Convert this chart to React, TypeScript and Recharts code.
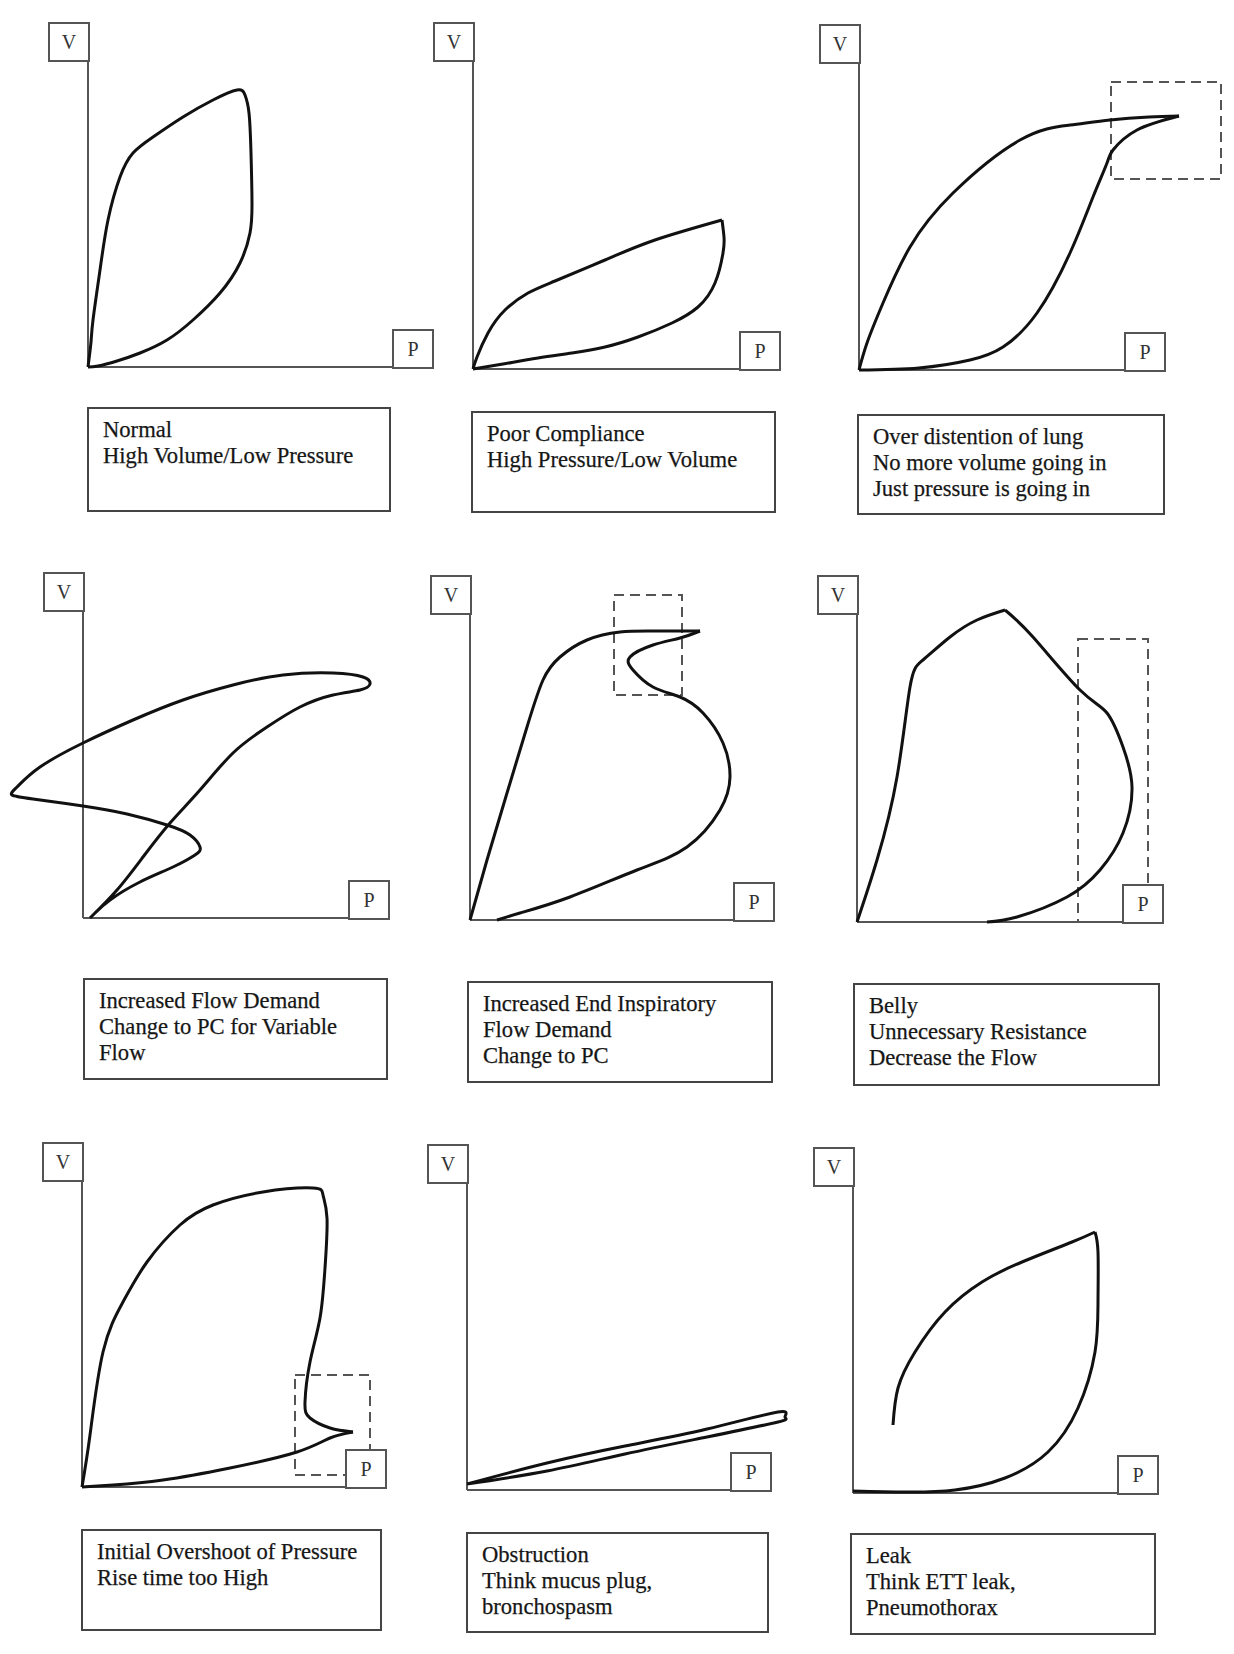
import React from "react";
import { LineChart, Line, XAxis, YAxis, ReferenceLine, ReferenceArea } from "recharts";

type Pt = { p: number; v: number };
const pts = (a: number[][]): Pt[] => a.map(([p, v]) => ({ p, v }));

// pressure / volume loops (arbitrary units)
const normalLoop = pts([
  [0, 0], [3, 25], [5, 47], [12, 97], [20, 147], [32, 190], [45, 214], [65, 230], [95, 250],
  [125, 267], [149, 277], [157, 272], [161, 254], [163, 214], [164, 164], [162, 134],
  [152, 104], [132, 74], [105, 47], [79, 27], [52, 14], [29, 6], [10, 1], [0, 0],
]);

const poorComplianceInsp = pts([
  [0, 0], [4, 12], [15, 36], [32, 59], [55, 76], [82, 88], [132, 109], [182, 129], [249, 149],
]);
const poorComplianceExp = pts([
  [249, 149], [251, 132], [250, 116], [242, 86], [225, 62], [199, 46], [165, 32], [132, 22],
  [99, 16], [65, 11], [30, 5], [0, 0],
]);

const overDistInsp = pts([
  [0, 0], [8, 27], [24, 67], [51, 123], [94, 177], [161, 230], [211, 245], [251, 250],
  [290, 253], [320, 254],
]);
const overDistExp = pts([
  [320, 254], [278, 240], [254, 220], [248, 207], [234, 173], [211, 117], [178, 57],
  [144, 23], [111, 10], [60, 2], [0, 0],
]);

const flowDemandLoop = pts([
  [7, 0], [34, 28], [60, 61], [87, 95], [117, 128], [150, 165], [184, 191], [217, 211],
  [250, 223], [277, 228], [287, 234], [280, 241], [250, 245], [200, 243], [150, 233],
  [100, 218], [50, 198], [0, 175], [-43, 151], [-66, 131], [-71, 123], [-50, 119], [0, 112],
  [44, 104], [84, 93], [107, 83], [117, 71], [112, 63], [90, 51], [57, 36], [27, 18],
  [12, 5], [7, 0],
]);

const endInspInsp = pts([
  [0, 0], [17, 60], [37, 127], [57, 193], [73, 240], [90, 263], [117, 280], [150, 288],
  [183, 289], [230, 289],
]);
const endInspExp = pts([
  [230, 289], [210, 282], [183, 275], [160, 263], [163, 250], [183, 233], [210, 223],
  [233, 207], [253, 177], [260, 143], [250, 110], [217, 73], [167, 50], [100, 23], [50, 7],
  [27, 0],
]);

const bellyInsp = pts([
  [0, 0], [20, 62], [40, 145], [53, 235], [66, 262], [93, 285], [120, 302], [148, 312],
]);
const bellyExp = pts([
  [148, 312], [176, 285], [223, 232], [250, 209], [266, 175], [275, 135], [266, 89],
  [243, 52], [210, 25], [160, 5], [130, 0],
]);

const overshootInsp = pts([
  [0, 0], [8, 52], [21, 135], [41, 185], [65, 225], [98, 262], [131, 282], [181, 295],
  [231, 299], [241, 292], [245, 269], [243, 219], [238, 169], [228, 125], [223, 85],
  [228, 69], [248, 59], [271, 55],
]);
const overshootExp = pts([
  [271, 55], [248, 49], [215, 35], [148, 19], [81, 7], [31, 2], [0, 0],
]);

const obstructionLoop = pts([
  [0, 6], [80, 27], [158, 44], [240, 61], [311, 78], [318, 73], [311, 68], [240, 53],
  [158, 36], [80, 19], [0, 6],
]);

const leakInsp = pts([
  [40, 68], [45, 105], [62, 141], [92, 181], [129, 211], [169, 231], [219, 251], [242, 261],
]);
const leakExp = pts([
  [242, 261], [245, 241], [245, 191], [242, 141], [225, 85], [195, 41], [152, 15],
  [102, 3], [52, 1], [0, 2],
]);

const captions: string[][] = [
  ["Normal", "High Volume/Low Pressure"],
  ["Poor Compliance", "High Pressure/Low Volume"],
  ["Over distention of lung", "No more volume going in", "Just pressure is going in"],
  ["Increased Flow Demand", "Change to PC for Variable", "Flow"],
  ["Increased End Inspiratory", "Flow Demand", "Change to PC"],
  ["Belly", "Unnecessary Resistance", "Decrease the Flow"],
  ["Initial Overshoot of Pressure", "Rise time too High"],
  ["Obstruction", "Think mucus plug,", "bronchospasm"],
  ["Leak", "Think ETT leak,", "Pneumothorax"],
];

type Dash = { p1: number; p2: number; v1: number; v2: number };
type PanelCfg = {
  ox: number; oy: number; top: number; right: number;
  series: Pt[][];
  dash?: Dash;
  box: [number, number, number, number];
};

const panels: PanelCfg[] = [
  { ox: 88, oy: 367, top: 22, right: 432, series: [normalLoop], box: [87, 407, 391, 512] },
  { ox: 473, oy: 369, top: 22, right: 779, series: [poorComplianceInsp, poorComplianceExp], box: [471, 411, 776, 513] },
  {
    ox: 859, oy: 370, top: 24, right: 1164, series: [overDistInsp, overDistExp],
    dash: { p1: 252, p2: 362, v1: 191, v2: 288 }, box: [857, 414, 1165, 515],
  },
  { ox: 83, oy: 918, top: 572, right: 388, series: [flowDemandLoop], box: [83, 978, 388, 1080] },
  {
    ox: 470, oy: 920, top: 575, right: 773, series: [endInspInsp, endInspExp],
    dash: { p1: 144, p2: 212, v1: 225, v2: 325 }, box: [467, 981, 773, 1083],
  },
  {
    ox: 857, oy: 922, top: 575, right: 1162, series: [bellyInsp, bellyExp],
    dash: { p1: 221, p2: 291, v1: 0, v2: 283 }, box: [853, 983, 1160, 1086],
  },
  {
    ox: 82, oy: 1487, top: 1142, right: 385, series: [overshootInsp, overshootExp],
    dash: { p1: 213, p2: 288, v1: 12, v2: 112 }, box: [81, 1529, 382, 1631],
  },
  { ox: 467, oy: 1490, top: 1144, right: 770, series: [obstructionLoop], box: [466, 1532, 769, 1633] },
  { ox: 853, oy: 1493, top: 1147, right: 1157, series: [leakInsp, leakExp], box: [850, 1533, 1156, 1635] },
];

const PAD_L = 90;
const PAD_R = 70;
const PAD_T = 10;
const PAD_B = 12;
const SERIF = '"Liberation Serif", "Times New Roman", serif';

const labelBox: React.CSSProperties = {
  position: "absolute",
  boxSizing: "border-box",
  width: 42,
  height: 40,
  border: "2px solid #555",
  background: "#fff",
  fontFamily: SERIF,
  fontSize: 20,
  color: "#333",
  display: "flex",
  alignItems: "center",
  justifyContent: "center",
};

function Panel({ cfg, lines }: { cfg: PanelCfg; lines: string[] }) {
  const lenX = cfg.right - cfg.ox;
  const lenY = cfg.oy - cfg.top;
  const W = PAD_L + lenX + PAD_R;
  const H = PAD_T + lenY + PAD_B;
  const [bl, bt, br, bb] = cfg.box;
  return (
    <>
      <div style={{ position: "absolute", left: cfg.ox - PAD_L, top: cfg.top - PAD_T }}>
        <LineChart width={W} height={H} margin={{ top: 0, right: 0, bottom: 0, left: 0 }}>
          <XAxis type="number" dataKey="p" domain={[-PAD_L, lenX + PAD_R]} hide allowDataOverflow height={0} />
          <YAxis type="number" dataKey="v" domain={[-PAD_B, lenY + PAD_T]} hide allowDataOverflow width={0} />
          {cfg.dash && (
            <ReferenceArea
              x1={cfg.dash.p1}
              x2={cfg.dash.p2}
              y1={cfg.dash.v1}
              y2={cfg.dash.v2}
              fill="none"
              fillOpacity={0}
              stroke="#555"
              strokeWidth={2}
              strokeDasharray="10 6"
              ifOverflow="visible"
            />
          )}
          <ReferenceLine segment={[{ x: 0, y: 0 }, { x: 0, y: lenY }]} stroke="#555" strokeWidth={2} ifOverflow="visible" />
          <ReferenceLine segment={[{ x: 0, y: 0 }, { x: lenX, y: 0 }]} stroke="#555" strokeWidth={2} ifOverflow="visible" />
          {cfg.series.map((s, i) => (
            <Line
              key={i}
              data={s}
              dataKey="v"
              type="natural"
              stroke="#111"
              strokeWidth={3}
              dot={false}
              activeDot={false}
              isAnimationActive={false}
            />
          ))}
        </LineChart>
      </div>
      <div style={{ ...labelBox, left: cfg.ox - 40, top: cfg.top }}>V</div>
      <div style={{ ...labelBox, left: cfg.right - 40, top: cfg.oy - 38 }}>P</div>
      <div
        style={{
          position: "absolute",
          left: bl,
          top: bt,
          width: br - bl,
          height: bb - bt,
          boxSizing: "border-box",
          border: "2px solid #444",
          padding: "8px 0 0 14px",
          fontFamily: SERIF,
          fontSize: 22.6,
          lineHeight: "26px",
          color: "#151515",
          background: "#fff",
          whiteSpace: "nowrap",
          WebkitTextStroke: "0.25px #222",
        }}
      >
        {lines.map((t, i) => (
          <div key={i}>{t}</div>
        ))}
      </div>
    </>
  );
}

export default function App() {
  return (
    <div style={{ position: "absolute", left: 0, top: 0, width: 1234, height: 1654, background: "#fff", overflow: "hidden" }}>
      {panels.map((cfg, i) => (
        <Panel key={i} cfg={cfg} lines={captions[i]} />
      ))}
    </div>
  );
}
